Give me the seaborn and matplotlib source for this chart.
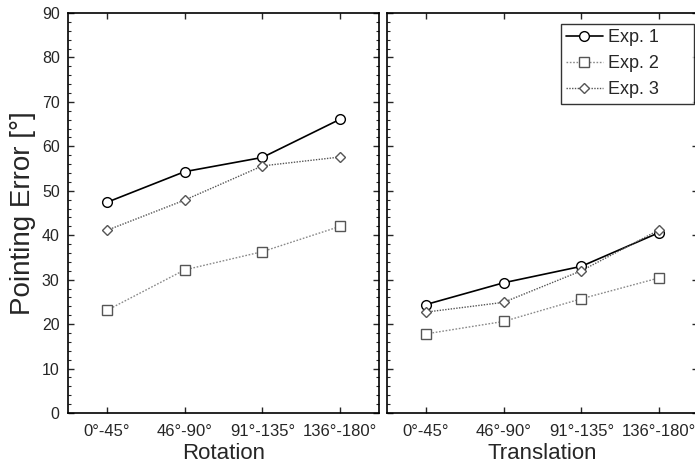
import pandas as pd
import matplotlib.pyplot as plt
import seaborn as sns
from matplotlib.ticker import MultipleLocator

# --- datos ---
categorias = ["0°-45°", "46°-90°", "91°-135°", "136°-180°"]
experimentos = ["Exp. 1", "Exp. 2", "Exp. 3"]

rot_exp1 = [47.4, 54.3, 57.5, 66.1]
rot_exp2 = [23.1, 32.2, 36.3, 42.0]
rot_exp3 = [41.1, 47.9, 55.6, 57.6]

tra_exp1 = [24.4, 29.3, 33.0, 40.6]
tra_exp2 = [17.8, 20.6, 25.7, 30.4]
tra_exp3 = [22.7, 24.9, 32.0, 41.2]

paneles = ["Rotation", "Translation"]

filas = []
for panel, series in zip(paneles, [[rot_exp1, rot_exp2, rot_exp3], [tra_exp1, tra_exp2, tra_exp3]]):
    for exp, vals in zip(experimentos, series):
        for cat, v in zip(categorias, vals):
            filas.append({"Panel": panel, "Exp": exp, "Cat": cat, "Error": v})
df = pd.DataFrame(filas)

estilos = {
    "Exp. 1": dict(color="black", linestyle="-", lw=1.2, marker="o", ms=7, mec="black"),
    "Exp. 2": dict(color="#8a8a8a", linestyle=(0, (1.2, 1.2)), lw=1.0, marker="s", ms=7, mec="#555555"),
    "Exp. 3": dict(color="#555555", linestyle=(0, (1.0, 1.0)), lw=1.0, marker="D", ms=5, mec="#555555"),
}

sns.set_style("white")
plt.rcParams["font.family"] = ["Liberation Sans", "DejaVu Sans"]

fig = plt.figure(figsize=(6.95, 4.71), dpi=100)
ax1 = fig.add_axes([68 / 695, 58 / 471, 311 / 695, 400 / 471])
ax2 = fig.add_axes([387 / 695, 58 / 471, 311 / 695, 400 / 471])

for ax, panel in zip([ax1, ax2], paneles):
    sub = df[df["Panel"] == panel]
    for exp in experimentos:
        st = estilos[exp]
        sns.lineplot(data=sub[sub["Exp"] == exp], x="Cat", y="Error", ax=ax,
                     color=st["color"], linestyle=st["linestyle"], lw=st["lw"],
                     marker=st["marker"], markersize=st["ms"], markerfacecolor="white",
                     markeredgecolor=st["mec"], markeredgewidth=1.0, label=exp)
    ax.set_xlim(-0.5, 3.5)
    ax.set_ylim(0, 90)
    ax.yaxis.set_major_locator(MultipleLocator(10))
    ax.yaxis.set_minor_locator(MultipleLocator(2))
    ax.tick_params(axis="both", which="major", direction="in", length=4, width=1,
                   top=True, right=True, left=True, bottom=True, pad=6)
    ax.tick_params(axis="y", which="major", labelsize=11.5)
    ax.tick_params(axis="y", which="minor", direction="in", length=2, width=0.8,
                   left=True, right=True)
    ax.tick_params(axis="x", which="major", pad=8, labelsize=12)
    ax.set_xlabel(panel, fontsize=16, labelpad=3)
    for s in ax.spines.values():
        s.set_color("black")
        s.set_linewidth(1.2)
    if ax.get_legend() is not None:
        ax.get_legend().remove()

ax1.set_ylabel("Pointing Error [°]", fontsize=20, labelpad=4)
ax2.set_ylabel("")
ax2.tick_params(axis="y", labelleft=False)

handles, labels = ax2.get_legend_handles_labels()
leg = ax2.legend(handles, labels, loc="upper left", bbox_to_anchor=(0.5595, 0.775, 0.4275, 0.1975),
                 mode="expand", fontsize=13, frameon=True, fancybox=False, handlelength=2.0,
                 borderpad=0.3, labelspacing=0.5, handletextpad=0.3, borderaxespad=0)
leg.get_frame().set_edgecolor("black")
leg.get_frame().set_linewidth(1.0)

fig.savefig("out.png", dpi=100)
